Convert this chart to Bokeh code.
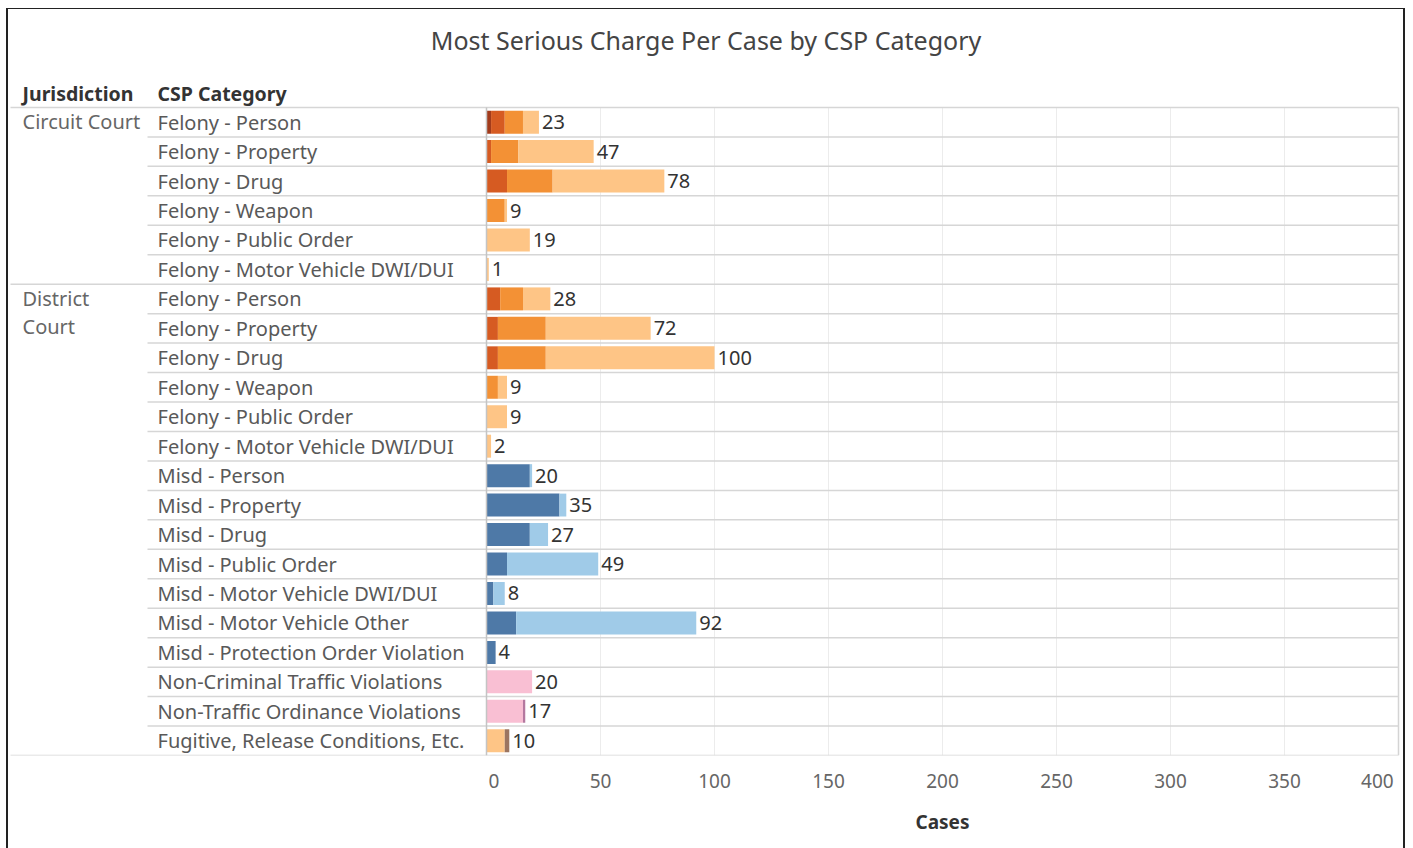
from bokeh.plotting import figure
from bokeh.models import ColumnDataSource, FixedTicker, Range1d, Title
from bokeh.core.properties import value
from bokeh.embed import file_html
from bokeh.resources import INLINE

# ---------------- data ----------------
title_text = "Most Serious Charge Per Case by CSP Category"
header_jurisdiction = "Jurisdiction"
header_category = "CSP Category"
x_axis_title = "Cases"

jurisdictions = ["Circuit Court", "District Court"]
jurisdiction_display = ["Circuit Court", "District\nCourt"]

circuit_categories = [
    "Felony - Person", "Felony - Property", "Felony - Drug", "Felony - Weapon",
    "Felony - Public Order", "Felony - Motor Vehicle DWI/DUI",
]
district_categories = [
    "Felony - Person", "Felony - Property", "Felony - Drug", "Felony - Weapon",
    "Felony - Public Order", "Felony - Motor Vehicle DWI/DUI",
    "Misd - Person", "Misd - Property", "Misd - Drug", "Misd - Public Order",
    "Misd - Motor Vehicle DWI/DUI", "Misd - Motor Vehicle Other",
    "Misd - Protection Order Violation", "Non-Criminal Traffic Violations",
    "Non-Traffic Ordinance Violations", "Fugitive, Release Conditions, Etc.",
]

# stacked segment values, one entry per row (circuit rows, then district rows)
felony_1 = [2, 0, 0, 0, 0, 0,   0, 0, 0, 0, 0, 0,   0, 0, 0, 0, 0, 0, 0,   0, 0, 0]
felony_2 = [6, 2, 9, 0, 0, 0,   6, 5, 5, 0, 0, 0,   0, 0, 0, 0, 0, 0, 0,   0, 0, 0]
felony_3 = [8, 12, 20, 8, 0, 0, 10, 21, 21, 5, 0, 0, 0, 0, 0, 0, 0, 0, 0,  0, 0, 0]
felony_4 = [7, 33, 49, 1, 19, 1, 12, 46, 74, 4, 9, 2, 0, 0, 0, 0, 0, 0, 0, 0, 0, 0]
misd_1   = [0, 0, 0, 0, 0, 0,   0, 0, 0, 0, 0, 0,   19, 32, 19, 9, 3, 13, 4, 0, 0, 0]
misd_2   = [0, 0, 0, 0, 0, 0,   0, 0, 0, 0, 0, 0,   1, 3, 8, 40, 5, 79, 0,  0, 0, 0]
other_1  = [0, 0, 0, 0, 0, 0,   0, 0, 0, 0, 0, 0,   0, 0, 0, 0, 0, 0, 0,   20, 16, 0]
other_2  = [0, 0, 0, 0, 0, 0,   0, 0, 0, 0, 0, 0,   0, 0, 0, 0, 0, 0, 0,   0, 1, 0]
other_3  = [0, 0, 0, 0, 0, 0,   0, 0, 0, 0, 0, 0,   0, 0, 0, 0, 0, 0, 0,   0, 0, 8]
other_4  = [0, 0, 0, 0, 0, 0,   0, 0, 0, 0, 0, 0,   0, 0, 0, 0, 0, 0, 0,   0, 0, 2]

x_ticks = [0, 50, 100, 150, 200, 250, 300, 350, 400]

# ---------------- styling / layout ----------------
FONT = "Noto Sans"
series_names = ["felony_1", "felony_2", "felony_3", "felony_4",
                "misd_1", "misd_2", "other_1", "other_2", "other_3", "other_4"]
series_values = [felony_1, felony_2, felony_3, felony_4,
                 misd_1, misd_2, other_1, other_2, other_3, other_4]
series_colors = ["#a23b1b", "#d65b22", "#f39135", "#fec586",
                 "#4e79a7", "#a0cbe8", "#f9bfd3", "#b4789f", "#fec586", "#9c7560"]

W, H = 1399, 840
ZERO_PX = 478.0            # canvas x of value 0
PX_PER_UNIT = 912.0 / 400  # pixels per case
ROW_TOP_PX = 98.0          # canvas y of first row's top
ROW_H = 29.48
BOTTOM_BORDER = 94

categories = circuit_categories + district_categories
row_jur = [jurisdictions[0]] * len(circuit_categories) + [jurisdictions[1]] * len(district_categories)
n = len(categories)
rows = list(range(n))
totals = [sum(v[i] for v in series_values) for i in rows]

x_start = -ZERO_PX / PX_PER_UNIT
x_end = (W - ZERO_PX) / PX_PER_UNIT
y_bottom = n - 0.5
y_top = -0.5 - ROW_TOP_PX / ROW_H


def xd(px):
    return x_start + px / PX_PER_UNIT


def yd(py):
    return -0.5 + (py - ROW_TOP_PX) / ROW_H


p = figure(width=W, height=H, x_range=Range1d(x_start, x_end), y_range=Range1d(y_bottom, y_top),
           output_backend="svg", toolbar_location=None, y_axis_location=None,
           min_border_left=0, min_border_right=0, min_border_top=0, min_border_bottom=BOTTOM_BORDER,
           styles={"margin-left": "6px", "margin-top": "8px",
                   "border-left": "2px solid #222", "border-right": "2px solid #222",
                   "border-top": "1px solid #222"})
p.outline_line_color = None
p.xgrid.visible = False
p.ygrid.visible = False
p.background_fill_color = "white"
p.border_fill_color = "white"

# vertical grid lines
grid_x = [t for t in x_ticks if t not in (0, x_ticks[-1])]
p.segment(x0=grid_x, y0=[-0.5] * len(grid_x), x1=grid_x, y1=[y_bottom] * len(grid_x),
          line_color="#ececec", line_width=1)
p.segment(x0=[x_ticks[-1]], y0=[-0.5], x1=[x_ticks[-1]], y1=[y_bottom], line_color="#d4d4d4", line_width=1.5)

# horizontal separators
group_ends = [i for i in rows[:-1] if row_jur[i] != row_jur[i + 1]]
inner = [i + 0.5 for i in rows[:-1] if i not in group_ends]
outer = [-0.5] + [i + 0.5 for i in group_ends] + [y_bottom]
p.segment(x0=[xd(139)] * len(inner), y0=inner, x1=[x_ticks[-1]] * len(inner), y1=inner,
          line_color="#d6d6d6", line_width=1.5)
p.segment(x0=[xd(2)] * len(outer), y0=outer, x1=[x_ticks[-1]] * len(outer), y1=outer,
          line_color="#d6d6d6", line_width=1.5)

# bars
data = dict(row=rows, category=categories, total=totals,
            total_label=[str(t) for t in totals])
for name, vals in zip(series_names, series_values):
    data[name] = vals
src = ColumnDataSource(data)
p.hbar_stack(series_names, y="row", height=0.78, color=series_colors, source=src, line_color=None)

# zero axis line
p.segment(x0=[0], y0=[-0.5], x1=[0], y1=[y_bottom], line_color="#c4c4c4", line_width=1.5)

# value labels
p.text(x="total", y="row", text="total_label", source=src, x_offset=3,
       text_baseline="middle", text_align="left", text_font=value(FONT),
       text_font_size="20px", text_color="#333333")

# category labels
p.text(x=xd(149), y="row", text="category", source=src, text_baseline="middle",
       text_align="left", text_font=value(FONT), text_font_size="20px", text_color="#595959")

# jurisdiction labels
first_rows = [row_jur.index(j) for j in jurisdictions]
p.text(x=[xd(14)] * len(jurisdictions), y=[r - 0.5 for r in first_rows], text=jurisdiction_display,
       y_offset=1, text_baseline="top", text_align="left", text_font=value(FONT),
       text_font_size="20px", text_color="#666666", text_line_height=1.04)

# headers
p.text(x=[xd(14), xd(149)], y=[yd(84), yd(84)], text=[header_jurisdiction, header_category],
       text_baseline="middle", text_align="left", text_font=value(FONT), text_font_size="19.5px",
       text_font_style="bold", text_color="#333333")

# title
p.text(x=[xd(W / 2 - 2)], y=[yd(31)], text=[title_text], text_baseline="middle", text_align="center",
       text_font=value(FONT), text_font_size="25px", text_color="#444444")

# x axis
ax = p.xaxis[0]
ax.ticker = FixedTicker(ticks=x_ticks)
ax.axis_line_color = None
ax.major_tick_line_color = None
ax.minor_tick_line_color = None
ax.major_label_text_font = FONT
ax.major_label_text_font_size = "19px"
ax.major_label_text_color = "#666666"
ax.major_label_standoff = 6
ax.major_label_overrides = {x_ticks[0]: "\u00a0\u00a0\u00a0" + str(x_ticks[0]),
                            x_ticks[-1]: str(x_ticks[-1]) + "\u00a0\u00a0"}

# axis title, placed under the centre of the value scale
p.add_layout(Title(text=x_axis_title, align="left", offset=ZERO_PX + 200 * PX_PER_UNIT - 27,
                   text_font=FONT, text_font_size="19px", text_font_style="bold",
                   text_color="#333333", standoff=22, vertical_align="middle"), "below")

open("out.html", "w").write(file_html(p, INLINE))
